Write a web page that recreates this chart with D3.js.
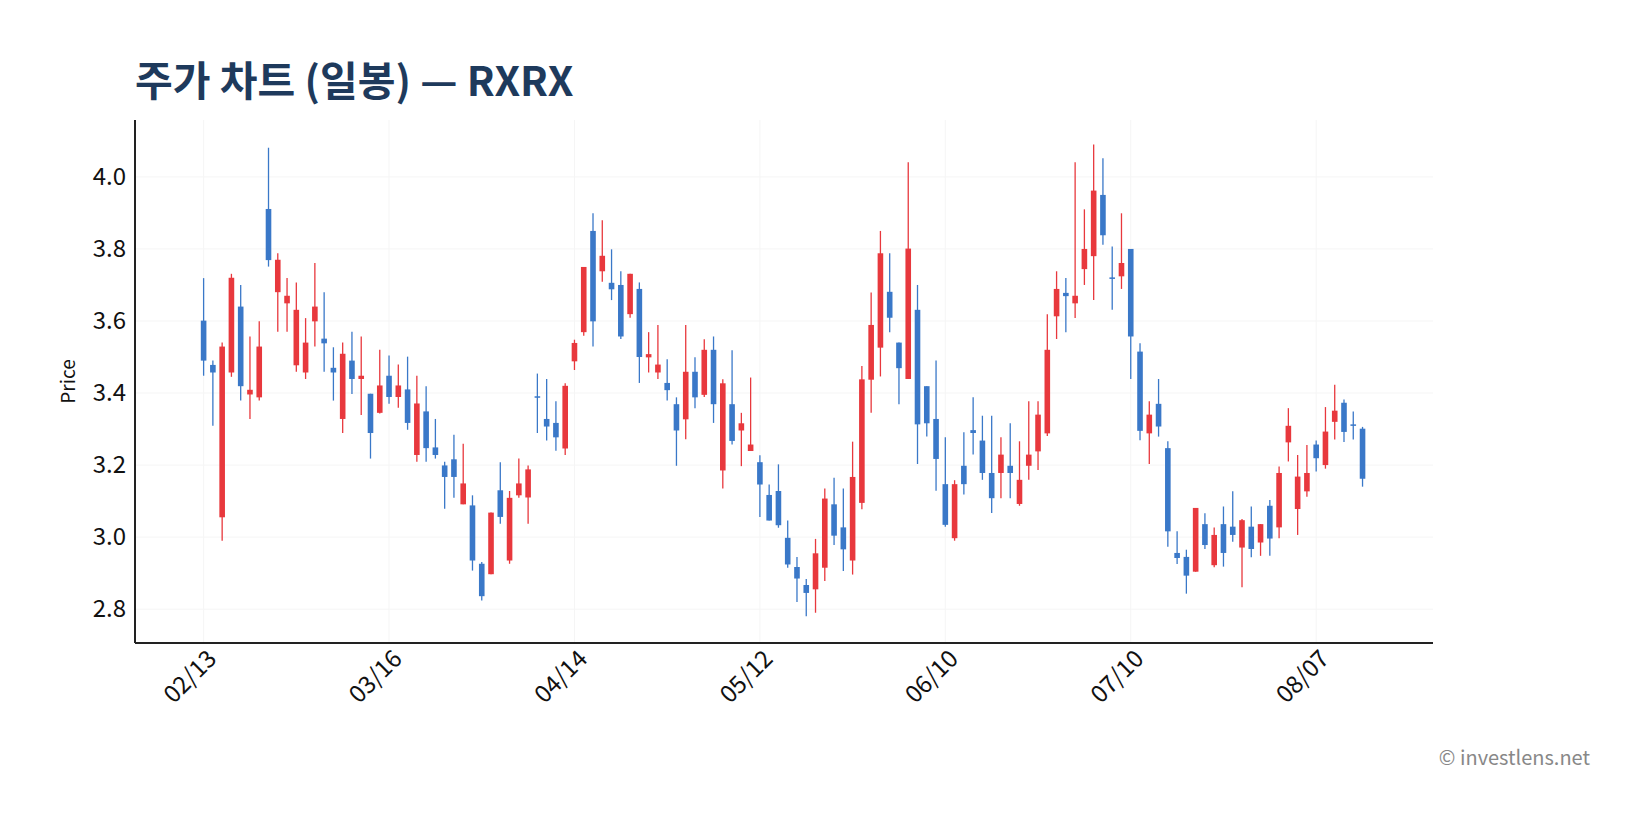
<!DOCTYPE html>
<html><head><meta charset="utf-8">
<script src="https://cdn.jsdelivr.net/npm/d3@7"></script>
<style>body{margin:0;background:#fff;}svg{display:block;font-family:"Noto Sans CJK KR","Noto Sans",sans-serif;}</style>
</head><body><svg id="c" width="1643" height="828"></svg>
<script>
const opens  = [3.601,3.478,3.055,3.457,3.640,3.396,3.388,3.911,3.680,3.649,3.477,3.457,3.599,3.551,3.470,3.328,3.490,3.439,3.398,3.345,3.448,3.389,3.410,3.228,3.349,3.249,3.199,3.216,3.091,3.088,2.926,2.897,3.130,2.935,3.116,3.110,3.391,3.328,3.317,3.246,3.488,3.569,3.850,3.738,3.706,3.700,3.619,3.689,3.499,3.457,3.428,3.369,3.327,3.459,3.395,3.520,3.185,3.369,3.296,3.239,3.208,3.117,3.128,2.998,2.917,2.867,2.855,2.915,3.091,3.027,2.935,3.095,3.437,3.526,3.681,3.540,3.439,3.631,3.419,3.328,3.147,2.997,3.198,3.297,3.268,3.178,3.178,3.198,3.092,3.198,3.238,3.288,3.613,3.678,3.649,3.744,3.780,3.950,3.721,3.724,3.800,3.515,3.288,3.370,3.247,2.956,2.945,2.904,3.036,2.922,3.036,3.029,2.971,3.029,2.985,3.087,3.027,3.263,3.078,3.127,3.257,3.200,3.320,3.373,3.313,3.301];
const highs  = [3.719,3.490,3.540,3.731,3.700,3.557,3.599,4.081,3.788,3.719,3.707,3.608,3.761,3.680,3.527,3.540,3.570,3.557,3.398,3.520,3.504,3.479,3.501,3.448,3.419,3.328,3.209,3.284,3.259,3.116,2.931,3.068,3.208,3.128,3.218,3.199,3.454,3.439,3.377,3.427,3.548,3.750,3.899,3.880,3.799,3.738,3.731,3.707,3.569,3.589,3.494,3.388,3.589,3.499,3.549,3.557,3.438,3.519,3.345,3.443,3.227,3.146,3.202,3.046,2.945,2.884,2.995,3.135,3.165,3.135,3.265,3.475,3.679,3.850,3.788,3.540,4.041,3.700,3.419,3.490,3.277,3.158,3.291,3.388,3.337,3.337,3.277,3.316,3.266,3.377,3.377,3.619,3.738,3.719,4.041,3.910,4.090,4.052,3.807,3.899,3.800,3.538,3.377,3.439,3.266,3.016,2.965,3.081,3.066,3.027,3.085,3.127,3.050,3.085,3.036,3.103,3.196,3.358,3.228,3.256,3.268,3.361,3.423,3.382,3.349,3.306];
const lows   = [3.448,3.309,2.990,3.445,3.379,3.328,3.379,3.751,3.570,3.570,3.459,3.439,3.529,3.459,3.379,3.289,3.397,3.339,3.218,3.343,3.370,3.359,3.298,3.209,3.209,3.218,3.079,3.109,3.091,2.907,2.824,2.897,3.037,2.926,3.109,3.037,3.289,3.268,3.240,3.228,3.464,3.559,3.529,3.709,3.658,3.550,3.609,3.428,3.457,3.439,3.379,3.198,3.272,3.358,3.389,3.317,3.135,3.257,3.197,3.239,3.056,3.046,3.026,2.915,2.820,2.780,2.790,2.878,2.978,2.906,2.896,3.077,3.345,3.446,3.569,3.369,3.439,3.203,3.279,3.129,3.029,2.990,3.118,3.229,3.159,3.067,3.108,3.108,3.087,3.159,3.186,3.281,3.550,3.569,3.608,3.700,3.658,3.812,3.631,3.689,3.439,3.269,3.203,3.279,2.973,2.925,2.843,2.904,2.967,2.916,2.918,2.987,2.861,2.944,2.948,2.948,2.997,3.210,3.006,3.112,3.182,3.190,3.271,3.264,3.271,3.140];
const closes = [3.490,3.457,3.529,3.720,3.419,3.409,3.529,3.769,3.770,3.670,3.631,3.540,3.640,3.538,3.457,3.509,3.439,3.448,3.289,3.421,3.389,3.421,3.317,3.371,3.247,3.228,3.167,3.167,3.149,2.935,2.836,3.068,3.056,3.109,3.149,3.188,3.389,3.307,3.277,3.420,3.539,3.750,3.599,3.781,3.688,3.557,3.731,3.500,3.508,3.479,3.408,3.296,3.459,3.388,3.520,3.369,3.427,3.267,3.316,3.257,3.146,3.046,3.033,2.924,2.885,2.845,2.955,3.107,3.004,2.966,3.167,3.438,3.589,3.788,3.609,3.469,3.801,3.313,3.316,3.217,3.034,3.147,3.147,3.289,3.178,3.108,3.229,3.178,3.159,3.229,3.340,3.520,3.689,3.669,3.670,3.800,3.962,3.838,3.719,3.761,3.557,3.295,3.340,3.307,3.016,2.942,2.893,3.081,2.978,3.006,2.956,3.006,3.047,2.967,3.036,2.996,3.178,3.309,3.168,3.178,3.219,3.293,3.351,3.292,3.311,3.162];
const tickIdx = [0,20,40,60,80,100,120];
const tickLabels = ["02/13","03/16","04/14","05/12","06/10","07/10","08/07"];
const yTicks = [2.8,3.0,3.2,3.4,3.6,3.8,4.0];

const svg = d3.select("#c");
const L=135,R=1433,T=120,B=643;
const x = d3.scaleLinear().domain([-7.4,132.6]).range([L,R]);
const y = d3.scaleLinear().domain([2.706,4.158]).range([B,T]);
const UP="#e8383d", DN="#3a78c8";
const FONT="'Noto Sans CJK KR','Noto Sans',sans-serif";

svg.append("g").selectAll("line").data(yTicks).join("line")
  .attr("x1",L).attr("x2",R).attr("y1",d=>y(d)).attr("y2",d=>y(d)).attr("stroke","#f5f5f5");
svg.append("g").selectAll("line").data(tickIdx).join("line")
  .attr("y1",T).attr("y2",B).attr("x1",d=>x(d)).attr("x2",d=>x(d)).attr("stroke","#f5f5f5");

const data = opens.map((o,i)=>({i,o,h:highs[i],l:lows[i],c:closes[i]}));
const g = svg.append("g");
g.selectAll("line.w").data(data).join("line").attr("class","w")
  .attr("x1",d=>x(d.i)).attr("x2",d=>x(d.i)).attr("y1",d=>y(d.h)).attr("y2",d=>y(d.l))
  .attr("stroke",d=>d.c>=d.o?UP:DN).attr("stroke-width",1.3);
g.selectAll("rect").data(data).join("rect")
  .attr("x",d=>x(d.i)-2.8).attr("width",5.6)
  .attr("y",d=>y(Math.max(d.o,d.c))).attr("height",d=>Math.max(1.5,Math.abs(y(d.o)-y(d.c))))
  .attr("fill",d=>d.c>=d.o?UP:DN);

const ya = svg.append("g").attr("transform",`translate(${L},0)`)
  .call(d3.axisLeft(y).tickValues(yTicks).tickFormat(d3.format(".1f")).tickSize(0).tickPadding(9));
ya.select(".domain").attr("d",`M0,${T}V${B}`).attr("stroke","#222").attr("stroke-width",2);
ya.selectAll("text").attr("font-size",24).attr("fill","#111").attr("font-family",FONT);
const xa = svg.append("g").attr("transform",`translate(0,${B})`)
  .call(d3.axisBottom(x).tickValues(tickIdx).tickFormat((d,k)=>tickLabels[k]).tickSize(0).tickPadding(10));
xa.select(".domain").attr("d",`M${L},0H${R}`).attr("stroke","#222").attr("stroke-width",2);
xa.selectAll("text").attr("font-size",24).attr("fill","#111").attr("font-family",FONT)
  .attr("text-anchor","end").attr("dx","-0.1em").attr("dy","0.5em").attr("transform","rotate(-45)");

svg.append("text").attr("transform",`translate(75,${(T+B)/2}) rotate(-90)`).attr("text-anchor","middle")
  .attr("font-size",19).attr("fill","#111").attr("font-family",FONT).text("Price");
svg.append("text").attr("x",135).attr("y",96).attr("font-size",41).attr("font-weight",700)
  .attr("fill","#1e3a5c").attr("font-family",FONT).text("주가 차트 (일봉) — RXRX");
svg.append("text").attr("x",1590).attr("y",765).attr("text-anchor","end").attr("font-size",20)
  .attr("fill","#888").attr("font-family",FONT).text("© investlens.net");
</script></body></html>
